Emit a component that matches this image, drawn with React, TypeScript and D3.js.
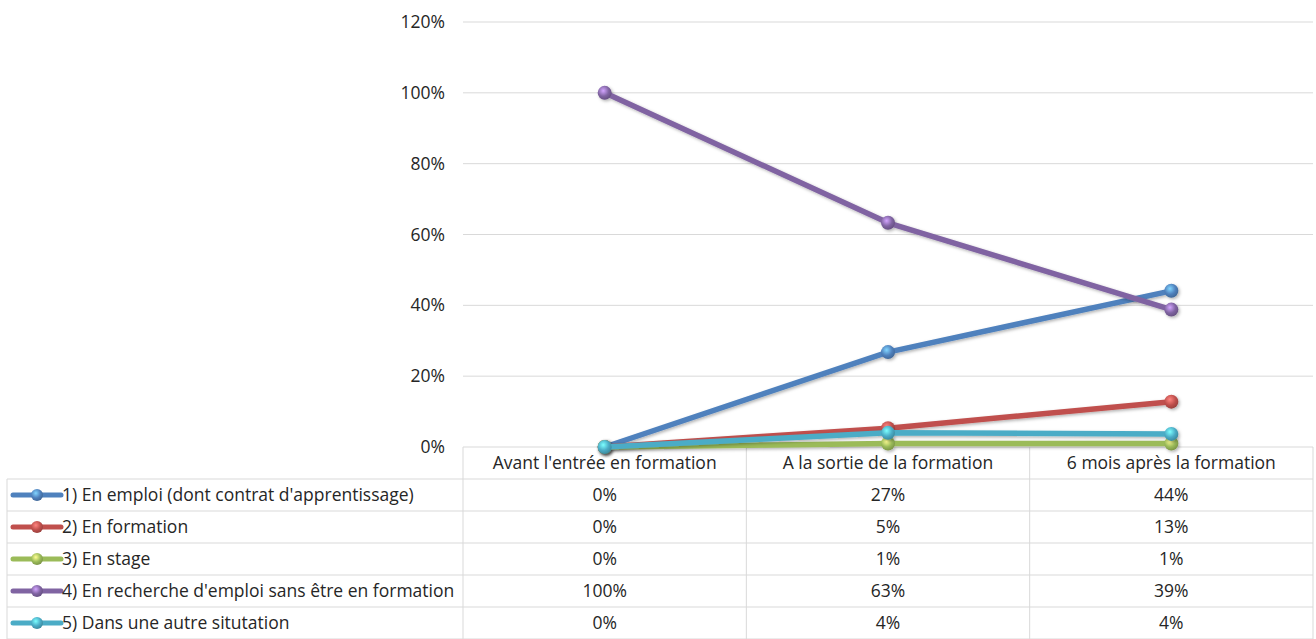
import React from "react";
import * as d3 from "d3";

const categories = ["Avant l'entrée en formation", "A la sortie de la formation", "6 mois après la formation"];
const seriesNames = [
  "1) En emploi (dont contrat d'apprentissage)",
  "2) En formation",
  "3) En stage",
  "4) En recherche d'emploi sans être en formation",
  "5) Dans une autre situtation",
];
const emploi = [0, 0.268, 0.441];
const formation = [0, 0.053, 0.128];
const stage = [0, 0.01, 0.01];
const recherche = [1.0, 0.633, 0.388];
const autre = [0, 0.04, 0.037];
const tableLabels = [
  ["0%", "27%", "44%"],
  ["0%", "5%", "13%"],
  ["0%", "1%", "1%"],
  ["100%", "63%", "39%"],
  ["0%", "4%", "4%"],
];
const yTicks = [0, 0.2, 0.4, 0.6, 0.8, 1.0, 1.2];
const colors = ["#4F81BD", "#C0504D", "#9BBB59", "#8064A2", "#4BACC6"];

const W = 1316;
const H = 639;
const FONT = "'Open Sans', 'Noto Sans', sans-serif";
const FS = 17.5;
const TEXT = "#262626";
const GRID = "#D9D9D9";

export default function App() {
  const allSeries = [emploi, formation, stage, recherche, autre];
  const x = d3.scaleBand<string>().domain(categories).range([463, 1313]);
  const y = d3.scaleLinear().domain([0, 1.2]).range([447, 22]);
  const line = d3
    .line<number>()
    .x((_, i) => (x(categories[i]) as number) + x.bandwidth() / 2)
    .y((d) => y(d));

  const rowTop = 447;
  const rowH = 32;
  const colLeft = 7;

  return (
    <svg width={W} height={H} style={{ position: "absolute", left: 0, top: 0 }} fontFamily={FONT}>
      <defs>
        {colors.map((c, i) => (
          <radialGradient key={i} id={`g${i}`} cx="40%" cy="35%" r="65%">
            <stop offset="0%" stopColor={d3.color(c)!.brighter(1.4).formatHex()} />
            <stop offset="60%" stopColor={c} />
            <stop offset="100%" stopColor={d3.color(c)!.darker(0.6).formatHex()} />
          </radialGradient>
        ))}
        <filter id="sh" x="-20%" y="-20%" width="140%" height="140%">
          <feDropShadow dx="1.5" dy="1.5" stdDeviation="1.5" floodColor="#000" floodOpacity="0.3" />
        </filter>
      </defs>
      <rect width={W} height={H} fill="#fff" />
      {yTicks.map((t) => (
        <g key={t}>
          {t > 0 && <line x1={463} x2={1313} y1={y(t)} y2={y(t)} stroke={GRID} strokeWidth={1} />}
          <text x={445} y={y(t)} dy="0.35em" textAnchor="end" fontSize={FS} fill={TEXT}>
            {d3.format(".0%")(t)}
          </text>
        </g>
      ))}
      <g stroke={GRID} strokeWidth={1} fill="none">
        <line x1={463} x2={1313} y1={rowTop} y2={rowTop} />
        {d3.range(1, 7).map((r) => (
          <line key={r} x1={colLeft} x2={1313} y1={rowTop + r * rowH} y2={rowTop + r * rowH} />
        ))}
        <line x1={colLeft} x2={colLeft} y1={rowTop + rowH} y2={H} />
        {[463, 463 + x.bandwidth(), 463 + 2 * x.bandwidth(), 1313].map((cx, i) => (
          <line key={i} x1={cx} x2={cx} y1={rowTop} y2={H} />
        ))}
      </g>
      {categories.map((c) => (
        <text key={c} x={(x(c) as number) + x.bandwidth() / 2} y={rowTop + rowH / 2} dy="0.35em" textAnchor="middle" fontSize={FS} fill={TEXT}>
          {c}
        </text>
      ))}
      {seriesNames.map((n, i) => {
        const cy = rowTop + (i + 1) * rowH + rowH / 2;
        return (
          <g key={n}>
            <line x1={13} x2={61} y1={cy} y2={cy} stroke={colors[i]} strokeWidth={5} strokeLinecap="round" />
            <circle cx={37} cy={cy} r={6} fill={`url(#g${i})`} />
            <text x={62} y={cy} dy="0.35em" fontSize={FS} fill={TEXT}>
              {n}
            </text>
            {tableLabels[i].map((v, j) => (
              <text key={j} x={(x(categories[j]) as number) + x.bandwidth() / 2} y={cy} dy="0.35em" textAnchor="middle" fontSize={FS} fill={TEXT}>
                {v}
              </text>
            ))}
          </g>
        );
      })}
      {allSeries.map((s, i) => (
        <g key={i} filter="url(#sh)">
          <path d={line(s) as string} fill="none" stroke={colors[i]} strokeWidth={5.5} strokeLinejoin="round" strokeLinecap="round" />
          {s.map((v, j) => (
            <circle key={j} cx={(x(categories[j]) as number) + x.bandwidth() / 2} cy={y(v)} r={7} fill={`url(#g${i})`} />
          ))}
        </g>
      ))}
    </svg>
  );
}
